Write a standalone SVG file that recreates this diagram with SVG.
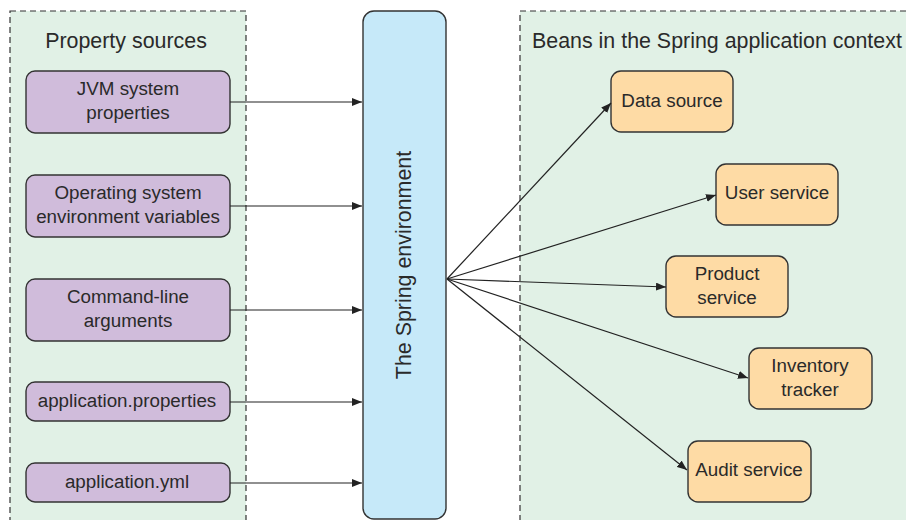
<svg xmlns="http://www.w3.org/2000/svg" width="906" height="520" viewBox="0 0 906 520">
<defs>
<style>
.panel{fill:#e1f1e6;stroke:#333;stroke-width:1.2;stroke-dasharray:6 4}
.src rect{fill:#d0bcdb;stroke:#333;stroke-width:1.4}
.bean rect{fill:#fedba5;stroke:#333;stroke-width:1.4}
.env rect{fill:#c6e9f9;stroke:#333;stroke-width:1.4}
text{font-family:"Liberation Sans",Arial,sans-serif;fill:#2a2a2a}
.t{font-size:18.8px;text-anchor:middle}
.h{font-size:21.4px}
.conn line{stroke:#222;stroke-width:1.2;marker-end:url(#ah)}
</style>
<marker id="ah" viewBox="0 0 10 8" refX="10" refY="4" markerWidth="10" markerHeight="8" markerUnits="userSpaceOnUse" orient="auto">
<path d="M0,0 L10,4 L0,8 Z" fill="#222"/>
</marker>
</defs>
<rect width="906" height="520" fill="#fff"/>
<g id="panel-sources">
<rect class="panel" x="10" y="11" width="236" height="520"/>
<text class="h" x="126" y="48" text-anchor="middle">Property sources</text>
</g>
<g id="panel-beans">
<rect class="panel" x="520" y="11" width="400" height="520"/>
<text class="h" x="532" y="48">Beans in the Spring application context</text>
</g>
<g id="jvm" class="src"><rect x="26" y="71" width="204" height="62" rx="9"/><text class="t" x="128" y="95">JVM system</text><text class="t" x="128" y="119">properties</text></g>
<g id="os" class="src"><rect x="26" y="175" width="204" height="62" rx="9"/><text class="t" x="128" y="199">Operating system</text><text class="t" x="128" y="223">environment variables</text></g>
<g id="cmd" class="src"><rect x="26" y="279" width="204" height="62" rx="9"/><text class="t" x="128" y="303">Command-line</text><text class="t" x="128" y="327">arguments</text></g>
<g id="props" class="src"><rect x="26" y="382" width="204" height="39" rx="9"/><text class="t" x="127" y="407">application.properties</text></g>
<g id="yml" class="src"><rect x="26" y="463" width="204" height="39" rx="9"/><text class="t" x="127" y="488">application.yml</text></g>
<g id="env" class="env"><rect x="363" y="11" width="83" height="508" rx="11"/><text class="h" transform="translate(411,265) rotate(-90)" text-anchor="middle">The Spring environment</text></g>
<g id="datasource" class="bean"><rect x="611" y="71" width="122" height="61" rx="10"/><text class="t" x="672" y="107">Data source</text></g>
<g id="userservice" class="bean"><rect x="716" y="164" width="122" height="61" rx="10"/><text class="t" x="777" y="199">User service</text></g>
<g id="productservice" class="bean"><rect x="666" y="256" width="122" height="61" rx="10"/><text class="t" x="727" y="280">Product</text><text class="t" x="727" y="304">service</text></g>
<g id="inventory" class="bean"><rect x="749" y="348" width="123" height="61" rx="10"/><text class="t" x="810" y="372">Inventory</text><text class="t" x="810" y="396">tracker</text></g>
<g id="audit" class="bean"><rect x="688" y="441" width="123" height="61" rx="10"/><text class="t" x="749" y="476">Audit service</text></g>
<g id="connectors" class="conn">
<line x1="230" y1="102" x2="362" y2="102"/>
<line x1="230" y1="206" x2="362" y2="206"/>
<line x1="230" y1="310" x2="362" y2="310"/>
<line x1="230" y1="402" x2="362" y2="402"/>
<line x1="230" y1="483" x2="362" y2="483"/>
<line x1="447" y1="279" x2="611" y2="103"/>
<line x1="447" y1="279" x2="716" y2="195"/>
<line x1="447" y1="279" x2="666" y2="287"/>
<line x1="447" y1="279" x2="748" y2="378"/>
<line x1="447" y1="279" x2="687" y2="470"/>
</g>
</svg>
